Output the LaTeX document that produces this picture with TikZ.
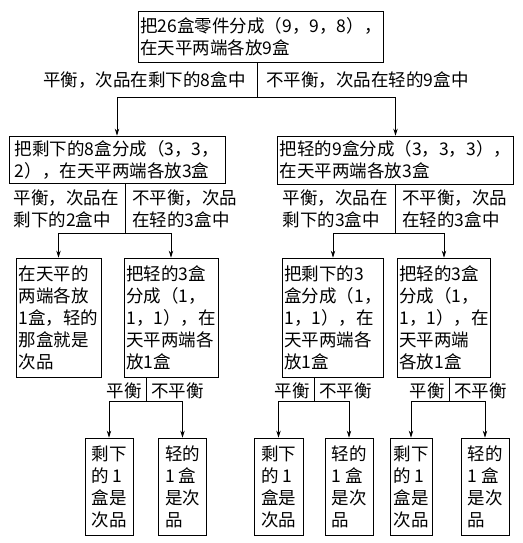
\documentclass[tikz,border=0pt]{standalone}
\usepackage{fontspec}
\newfontfamily\cjk{Noto Sans CJK SC}
\usetikzlibrary{arrows.meta}
\begin{document}
\begin{tikzpicture}[x=1pt,y=-1pt,line width=0.8pt,
    box/.style={draw,align=left,inner sep=2pt,font=\cjk\fontsize{17.5}{22}\selectfont},
    leaf/.style={box,minimum width=48pt,minimum height=97pt},
    lbl/.style={align=left,inner sep=2pt,font=\cjk\fontsize{17.5}{22}\selectfont},
    arr/.style={-{Stealth[length=7pt,width=4.5pt]}}]
    \useasboundingbox (0,0) rectangle (522,543);
    \node[box,minimum width=244pt,minimum height=51pt] (top) at (261,36.5) {把26盒零件分成（9，9，8），\\在天平两端各放9盒};
    \node[box,minimum width=216pt,minimum height=47pt] (left) at (117,159.5) {把剩下的8盒分成（3，3，\\2），在天平两端各放3盒};
    \node[box,minimum width=235pt,minimum height=48pt] (right) at (395.5,160) {把轻的9盒分成（3，3，3），\\在天平两端各放3盒};
    \node[box,minimum width=85pt,minimum height=119pt] (la) at (58.5,317.5) {在天平的\\两端各放\\1盒，轻的\\那盒就是\\次品};
    \node[box,minimum width=94pt,minimum height=119pt] (lb) at (171,317.5) {把轻的3盒\\分成（1，\\1，1），在\\天平两端各\\放1盒};
    \node[box,minimum width=98pt,minimum height=119pt] (ra) at (333,317.5) {把剩下的3\\盒分成（1，\\1，1），在\\天平两端各\\放1盒};
    \node[box,minimum width=92pt,minimum height=119pt] (rb) at (444,317.5) {把轻的3盒\\分成（1，\\1，1），在\\天平两端\\各放1盒};
    \coordinate (j0) at (257,97);
    \coordinate (j1) at (125,233);
    \coordinate (j2) at (395,233);
    \node[lbl,anchor=east] (yes0) at (248,80) {平衡，次品在剩下的8盒中};
    \node[lbl,anchor=west] (no0) at (264,80) {不平衡，次品在轻的9盒中};
    \node[lbl,anchor=east] (yes1) at (121,209) {平衡，次品在\\剩下的2盒中};
    \node[lbl,anchor=west] (no1) at (130,209) {不平衡，次品\\在轻的3盒中};
    \node[lbl,anchor=east] (yes2) at (390,209) {平衡，次品在\\剩下的3盒中};
    \node[lbl,anchor=west] (no2) at (400,209) {不平衡，次品\\在轻的3盒中};
    \draw (j0 |- top.south) -- (j0);
    \draw[arr] (j0) -| (left.north);
    \draw[arr] (j0) -| (right.north);
    \draw (j1 |- left.south) -- (j1);
    \draw[arr] (j1) -| (la.north);
    \draw[arr] (j1) -| (lb.north);
    \draw (j2 |- right.south) -- (j2);
    \draw[arr] (j2) -| (ra.north);
    \draw[arr] (j2) -| (rb.north);
    \foreach \n/\j/\xa/\wa/\xb in {lb/146/109/48/182.5, ra/314/278.5/49/349, rb/449/411/42/485} {
        \coordinate (j\n) at (\j,401);
        \node[leaf,minimum width=\wa pt] (s\n) at (\xa,486.5) {剩下\\的 1\\盒是\\次品};
        \node[leaf] (q\n) at (\xb,486.5) {轻的\\1 盒\\是次\\品};
        \node[lbl,anchor=east] (p\n) at (\j-2,391) {平衡};
        \node[lbl,anchor=west] (u\n) at (\j+3,391) {不平衡};
        \draw (j\n |- \n.south) -- (j\n);
        \draw[arr] (j\n) -| (s\n.north);
        \draw[arr] (j\n) -| (q\n.north);
    }
\end{tikzpicture}
\end{document}
